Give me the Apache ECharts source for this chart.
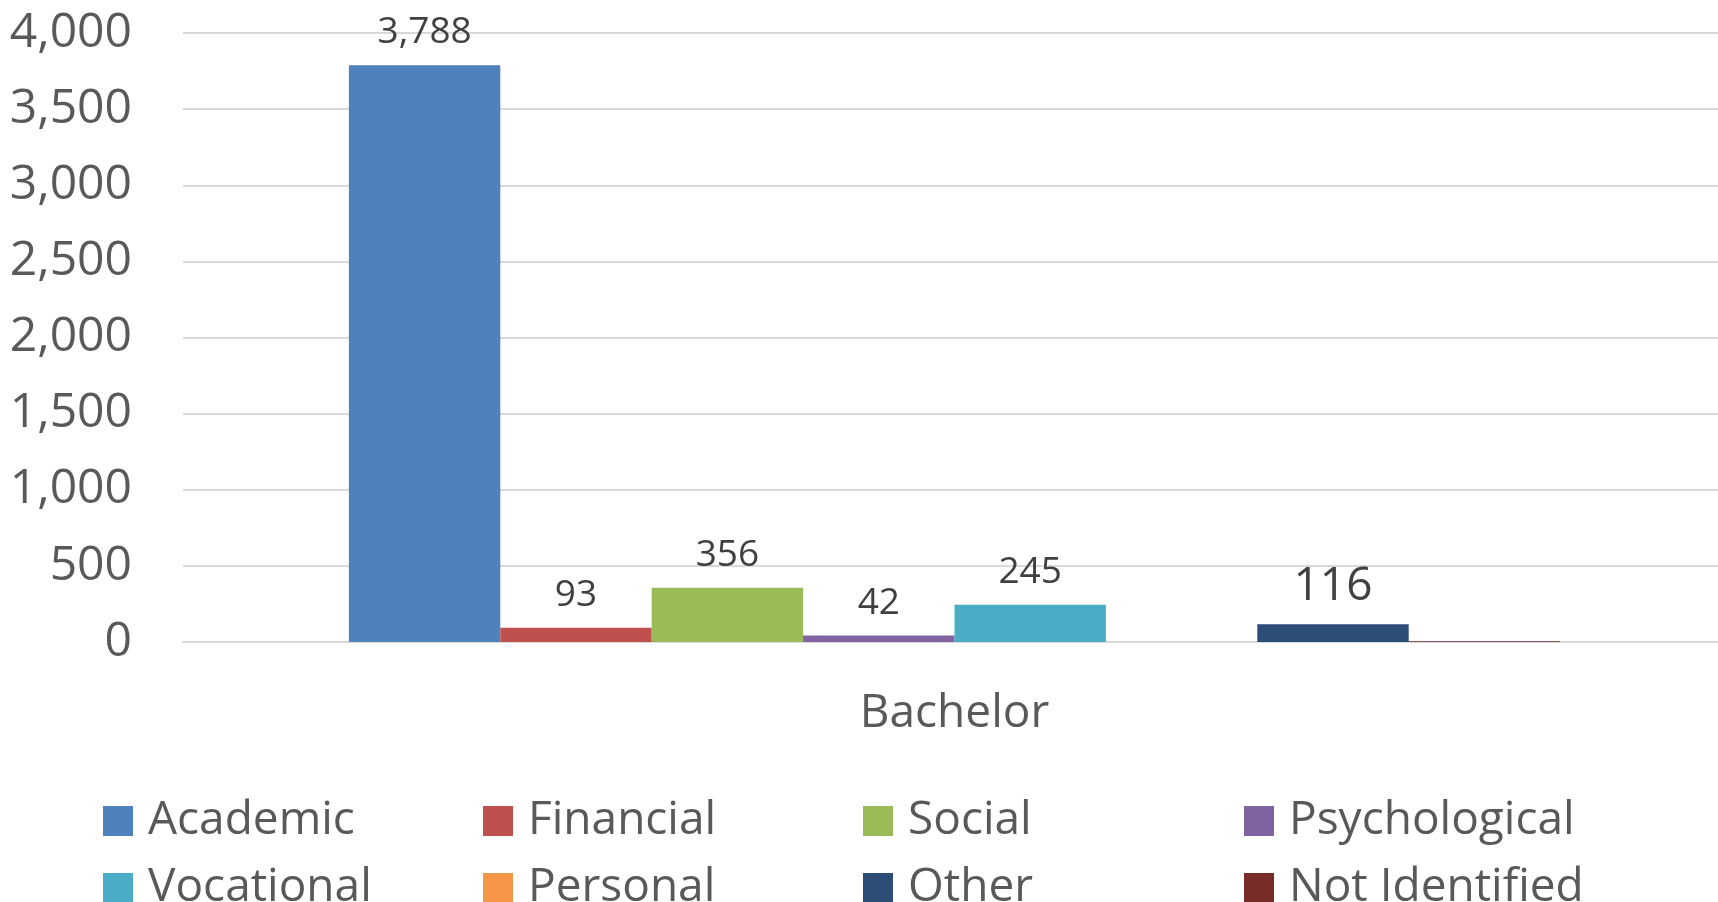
<!DOCTYPE html>
<html>
<head>
<meta charset="utf-8">
<script src="https://cdn.jsdelivr.net/npm/echarts@6/dist/echarts.min.js"></script>
<style>
html,body{margin:0;padding:0;background:#fff;overflow:hidden;width:1718px;height:902px;}
#chart{width:1726px;height:902px;}
</style>
</head>
<body>
<div id="chart"></div>
<script>
const categories = ['Bachelor'];
const seriesNames = ['Academic','Financial','Social','Psychological','Vocational','Personal','Other','Not Identified'];
const seriesValues = [3788, 93, 356, 42, 245, 0, 116, 5];
const showLabel = [true, true, true, true, true, false, true, false];
const colors = ['#4f81bd','#c0504d','#9bbb59','#8064a2','#4bacc6','#f79646','#2c4d75','#772c2a'];
const yTicks = [0, 500, 1000, 1500, 2000, 2500, 3000, 3500, 4000];

const FONT = 'Open Sans';
const chart = echarts.init(document.getElementById('chart'), null, {renderer:'canvas'});

const legendLeft = [103, 483, 863, 1244];
const legendTop = [798, 865];
const legends = seriesNames.map((n, i) => ({
  show: true,
  data: [n],
  left: legendLeft[i % 4],
  top: legendTop[Math.floor(i / 4)],
  itemWidth: 30,
  itemHeight: 30,
  icon: 'rect',
  padding: 0,
  selectedMode: false,
  textStyle: {fontFamily: FONT, fontSize: 46, color: '#595959', lineHeight: 46, padding: [0,0,0,10]}
}));

const series = seriesNames.map((n, i) => ({
  name: n,
  type: 'bar',
  data: [seriesValues[i]],
  barGap: '0%',
  barWidth: 151.4,
  itemStyle: {color: colors[i]},
  label: {
    show: showLabel[i],
    position: 'top',
    distance: 14,
    fontFamily: FONT,
    fontSize: n === 'Other' ? 46 : 37,
    color: '#404040',
    formatter: p => p.value.toLocaleString('en-US')
  }
}));

chart.setOption({
  animation: false,
  backgroundColor: '#fff',
  legend: legends,
  grid: {left: 183, right: 0, top: 33, bottom: 260, containLabel: false},
  xAxis: {
    type: 'category',
    data: categories,
    axisLine: {lineStyle: {color: '#d9d9d9', width: 2}},
    axisTick: {show: false},
    axisLabel: {fontFamily: FONT, fontSize: 46, color: '#595959', margin: 49}
  },
  yAxis: {
    type: 'value',
    min: yTicks[0],
    max: yTicks[yTicks.length - 1],
    interval: yTicks[1] - yTicks[0],
    axisLine: {show: false},
    axisTick: {show: false},
    splitLine: {lineStyle: {color: '#d9d9d9', width: 2}},
    axisLabel: {fontFamily: FONT, fontSize: 48, color: '#595959', margin: 51,
      formatter: v => v.toLocaleString('en-US')}
  },
  series: series
});
</script>
</body>
</html>
